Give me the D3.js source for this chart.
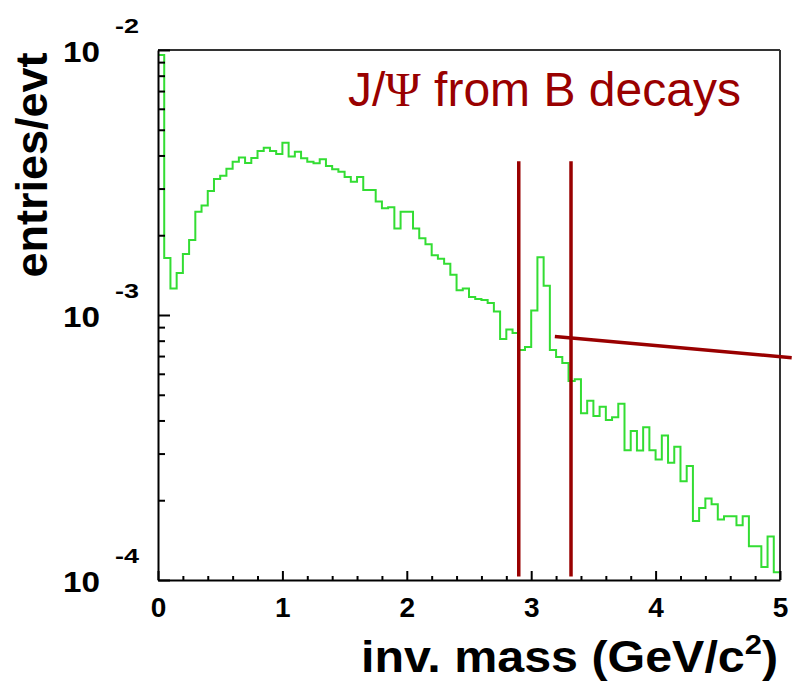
<!DOCTYPE html>
<html>
<head>
<meta charset="utf-8">
<script src="https://cdn.jsdelivr.net/npm/d3@7"></script>
<style>
  html, body { margin: 0; padding: 0; background: #fff; }
  svg { display: block; }
  text { font-family: "Liberation Sans", Arial, Helvetica, sans-serif; }
</style>
</head>
<body>
<div id="chart"></div>
<script>
// invariant mass histogram, 100 bins of 0.05 GeV/c^2 between 0 and 5
const binLow = 0;
const binWidth = 0.05;
const entries = [
  9.57e-3, 1.64e-3, 1.26e-3, 1.44e-3, 1.70e-3, 1.92e-3, 2.45e-3, 2.59e-3, 2.94e-3, 3.26e-3,
  3.35e-3, 3.56e-3, 3.79e-3, 3.93e-3, 3.75e-3, 3.91e-3, 4.16e-3, 4.28e-3, 4.16e-3, 4.05e-3,
  4.47e-3, 3.96e-3, 4.13e-3, 3.90e-3, 3.79e-3, 3.74e-3, 3.87e-3, 3.65e-3, 3.55e-3, 3.47e-3,
  3.32e-3, 3.18e-3, 3.32e-3, 2.96e-3, 2.96e-3, 2.68e-3, 2.53e-3, 2.55e-3, 2.12e-3, 2.45e-3,
  2.45e-3, 2.12e-3, 1.95e-3, 1.85e-3, 1.68e-3, 1.63e-3, 1.56e-3, 1.42e-3, 1.24e-3, 1.26e-3,
  1.17e-3, 1.15e-3, 1.14e-3, 1.11e-3, 1.03e-3, 8.12e-4, 8.82e-4, 8.55e-4, 7.38e-4, 7.57e-4,
  1.04e-3, 1.65e-3, 1.29e-3, 7.38e-4, 6.94e-4, 6.59e-4, 5.64e-4, 5.72e-4, 4.26e-4, 4.75e-4,
  4.16e-4, 4.51e-4, 4.02e-4, 4.11e-4, 4.62e-4, 3.09e-4, 3.65e-4, 3.08e-4, 3.77e-4, 3.09e-4,
  2.85e-4, 3.51e-4, 2.77e-4, 3.18e-4, 2.36e-4, 2.69e-4, 1.67e-4, 1.87e-4, 2.03e-4, 1.93e-4,
  1.69e-4, 1.74e-4, 1.74e-4, 1.61e-4, 1.74e-4, 1.34e-4, 1.34e-4, 1.12e-4, 1.46e-4, 1.07e-4
];

const xTicks = [0, 1, 2, 3, 4, 5];
const xMinorStep = 0.2;
const yTicks = [1e-4, 1e-3, 1e-2];
const yExponents = ['-4', '-3', '-2'];

// J/psi mass window and the pointer line
const cutLines = [2.9, 3.32];
const cutRange = [1.03e-4, 3.8e-3];
const pointer = [[3.19, 8.3e-4], [5.094, 6.9e-4]];

const width = 792, height = 684;
const frame = { left: 158, right: 780, top: 50, bottom: 580 };
const green = '#33dd33';
const darkRed = '#990000';

const svg = d3.select('#chart').append('svg')
    .attr('width', width)
    .attr('height', height);

const x = d3.scaleLinear().domain([0, 5]).range([frame.left, frame.right]);
const y = d3.scaleLog().domain([1e-4, 1e-2]).range([frame.bottom, frame.top]);

svg.append('clipPath').attr('id', 'plot-clip')
    .append('rect')
    .attr('x', frame.left).attr('y', frame.top)
    .attr('width', frame.right - frame.left)
    .attr('height', frame.bottom - frame.top);

// histogram outline
let pts = entries.map((v, i) => [binLow + i * binWidth, v]);
pts.unshift([binLow, 1e-4]);
pts.push([binLow + entries.length * binWidth, entries[entries.length - 1]]);
pts.push([binLow + entries.length * binWidth, 1e-4]);

const histLine = d3.line()
    .x(d => x(d[0]))
    .y(d => y(d[1]))
    .curve(d3.curveStepAfter);

svg.append('path')
    .datum(pts)
    .attr('clip-path', 'url(#plot-clip)')
    .attr('d', histLine)
    .attr('fill', 'none')
    .attr('stroke', green)
    .attr('stroke-width', 2);

// frame top / right
svg.append('line')
    .attr('x1', frame.left).attr('x2', frame.right)
    .attr('y1', frame.top).attr('y2', frame.top)
    .attr('stroke', '#333').attr('stroke-width', 2);
svg.append('line')
    .attr('x1', frame.right).attr('x2', frame.right)
    .attr('y1', frame.top).attr('y2', frame.bottom)
    .attr('stroke', '#333').attr('stroke-width', 2);

// x axis
const xMinor = d3.range(0, 5.0001, xMinorStep).filter(v => Math.abs(v - Math.round(v)) > 1e-6);
svg.append('g')
    .attr('transform', 'translate(0,' + frame.bottom + ')')
    .call(d3.axisBottom(x).tickValues(xMinor).tickSize(-4).tickSizeOuter(0).tickFormat(''))
    .call(g => g.select('.domain').remove())
    .call(g => g.selectAll('line').attr('stroke', '#000').attr('stroke-width', 2));

svg.append('g')
    .attr('transform', 'translate(0,' + frame.bottom + ')')
    .call(d3.axisBottom(x).tickValues(xTicks).tickSize(-9).tickSizeOuter(0).tickPadding(17).tickFormat(d3.format('d')))
    .call(g => g.select('.domain').attr('stroke', '#000').attr('stroke-width', 2))
    .call(g => g.selectAll('line').attr('stroke', '#000').attr('stroke-width', 2))
    .call(g => g.selectAll('text')
        .attr('fill', '#000')
        .style('font-size', '28px')
        .style('font-weight', 'bold')
        .style('font-family', '"Liberation Sans", Arial, sans-serif'));

// y axis
const yMinor = [];
[1e-4, 1e-3].forEach(dec => d3.range(2, 10).forEach(k => yMinor.push(k * dec)));

svg.append('g')
    .attr('transform', 'translate(' + frame.left + ',0)')
    .call(d3.axisLeft(y).tickValues(yMinor).tickSize(-7).tickSizeOuter(0).tickFormat(''))
    .call(g => g.select('.domain').remove())
    .call(g => g.selectAll('line').attr('stroke', '#000').attr('stroke-width', 2));

svg.append('g')
    .attr('transform', 'translate(' + frame.left + ',0)')
    .call(d3.axisLeft(y).tickValues(yTicks).tickSize(-12).tickSizeOuter(0).tickFormat(''))
    .call(g => g.select('.domain').attr('stroke', '#000').attr('stroke-width', 2))
    .call(g => g.selectAll('line').attr('stroke', '#000').attr('stroke-width', 2));

const yLabels = svg.append('g').selectAll('g')
    .data(yTicks)
    .join('g')
    .attr('transform', d => 'translate(0,' + y(d) + ')');

yLabels.append('text')
    .attr('x', 100).attr('y', 12)
    .attr('text-anchor', 'end')
    .style('font-size', '30px')
    .style('font-weight', 'bold')
    .attr('textLength', 37)
    .attr('lengthAdjust', 'spacingAndGlyphs')
    .text('10');

yLabels.append('text')
    .attr('x', 115).attr('y', -17)
    .style('font-size', '20px')
    .style('font-weight', 'bold')
    .attr('textLength', 24)
    .attr('lengthAdjust', 'spacingAndGlyphs')
    .text((d, i) => yExponents[i]);

// axis titles
svg.append('text')
    .attr('transform', 'translate(47,165) rotate(-90)')
    .attr('text-anchor', 'middle')
    .style('font-size', '44px')
    .style('font-weight', 'bold')
    .attr('textLength', 225)
    .attr('lengthAdjust', 'spacingAndGlyphs')
    .text('entries/evt');

const xTitle = svg.append('text')
    .attr('transform', 'translate(778,672) scale(1.1,1)')
    .attr('text-anchor', 'end')
    .style('font-size', '44px')
    .style('font-weight', 'bold');
xTitle.append('tspan').text('inv. mass (GeV/c');
xTitle.append('tspan').attr('dy', -18).style('font-size', '28px').text('2');
xTitle.append('tspan').attr('dy', 18).text(')');

// J/psi window
svg.append('g').selectAll('line')
    .data(cutLines)
    .join('line')
    .attr('x1', d => x(d)).attr('x2', d => x(d))
    .attr('y1', y(cutRange[0])).attr('y2', y(cutRange[1]))
    .attr('stroke', darkRed)
    .attr('stroke-width', 3.5);

svg.append('line')
    .attr('x1', x(pointer[0][0])).attr('y1', y(pointer[0][1]))
    .attr('x2', x(pointer[1][0])).attr('y2', y(pointer[1][1]))
    .attr('stroke', darkRed)
    .attr('stroke-width', 3.5);

const label = svg.append('text')
    .attr('x', 348).attr('y', 106)
    .attr('fill', darkRed)
    .style('font-size', '48px');
label.append('tspan').text('J/');
label.append('tspan').style('font-family', '"Liberation Serif", "Times New Roman", serif').text('Ψ');
label.append('tspan').text(' from B decays');
</script>
</body>
</html>
